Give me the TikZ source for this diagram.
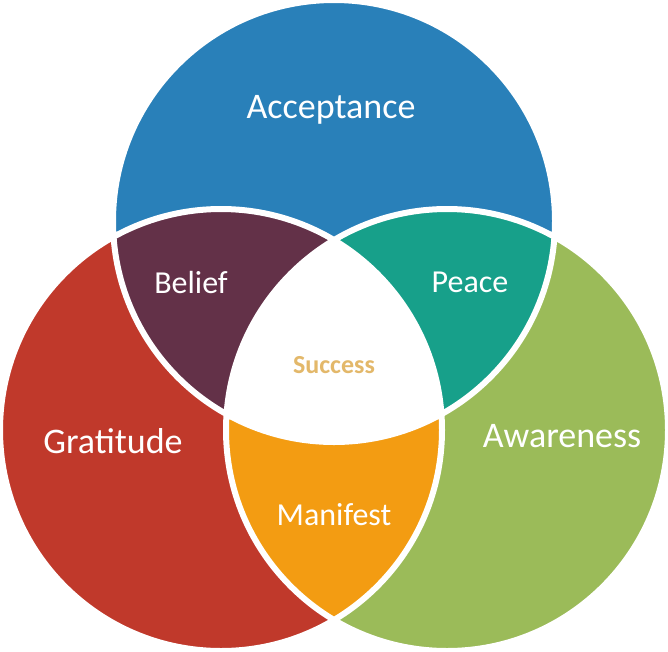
\documentclass[tikz,border=0pt]{standalone}
\usepackage{fontspec}
\setmainfont{Carlito}
\definecolor{cblue}{HTML}{2980B9}
\definecolor{cred}{HTML}{C0392B}
\definecolor{cgreen}{HTML}{9BBB59}
\definecolor{cpurple}{HTML}{633148}
\definecolor{cteal}{HTML}{17A08A}
\definecolor{corange}{HTML}{F39C12}
\definecolor{cgold}{HTML}{E3B86A}
\begin{document}
\begin{tikzpicture}[x=1pt,y=-1pt,
  big/.style={text=white,font=\fontsize{36}{40}\selectfont},
  small/.style={text=white,font=\fontsize{32}{36}\selectfont}]
\useasboundingbox (0,0) rectangle (668,651);
\def\T{(334,221) circle (221)}
\def\L{(221,430) circle (221)}
\def\R{(447,430) circle (221)}
\fill[cred] \L;
\fill[cgreen] \R;
\fill[cblue] \T;
\begin{scope}\clip \T; \fill[cpurple] \L; \end{scope}
\begin{scope}\clip \T; \fill[cteal] \R; \end{scope}
\begin{scope}\clip \L; \fill[corange] \R; \end{scope}
\begin{scope}\clip \T; \clip \L; \fill[white] \R; \end{scope}
\draw[white,line width=6] \T \L \R;
\node[big] (acc) at (331,110) {Acceptance};
\node[big] (gra) at (113,441) {Gratitude};
\node[big] (awa) at (562,436) {Awareness};
\node[small] (bel) at (191,282) {Belief};
\node[small] (pea) at (470,282) {Peace};
\node[small] (man) at (334,515) {Manifest};
\node[text=cgold,font=\bfseries\fontsize{26}{30}\selectfont] (suc) at (334,365) {Success};
\end{tikzpicture}
\end{document}
